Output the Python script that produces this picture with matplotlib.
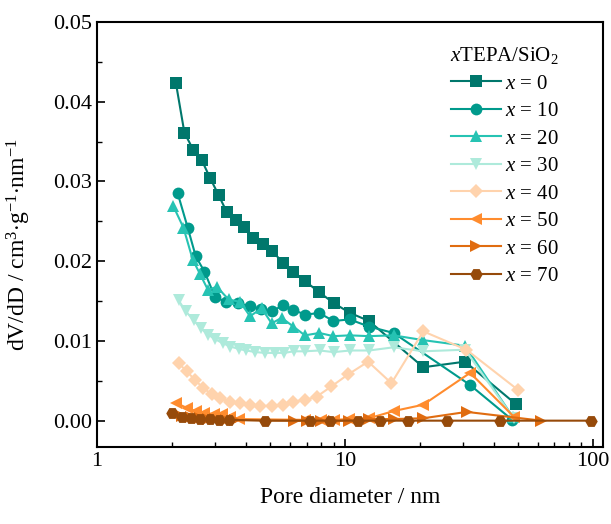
import matplotlib.pyplot as plt
from matplotlib.ticker import MultipleLocator, FixedLocator, NullFormatter

plt.rcParams['font.family'] = ['Liberation Serif', 'DejaVu Serif']
plt.rcParams['mathtext.fontset'] = 'custom'
plt.rcParams['mathtext.rm'] = 'Liberation Serif'
plt.rcParams['mathtext.it'] = 'Liberation Serif:italic'

# x = 0
d0 = [2.08, 2.25, 2.44, 2.64, 2.86, 3.09, 3.33, 3.62, 3.93, 4.27, 4.66, 5.06, 5.64, 6.19,
      6.9, 7.88, 9.05, 10.5, 12.5, 20.7, 30.5, 48.8]
v0 = [0.0423, 0.0361, 0.0340, 0.0327, 0.0304, 0.0283, 0.0262, 0.0252, 0.0243, 0.0229, 0.0222,
      0.0213, 0.0198, 0.0187, 0.0175, 0.0161, 0.0147, 0.0135, 0.0125, 0.0067, 0.0074, 0.0021]
# x = 10
d10 = [2.11, 2.32, 2.50, 2.71, 2.99, 3.31, 3.70, 4.14, 4.58, 5.08, 5.63, 6.19, 6.89, 7.88,
       8.98, 10.45, 12.5, 15.7, 31.9, 47.3]
v10 = [0.0286, 0.0242, 0.0206, 0.0187, 0.0155, 0.0149, 0.0147, 0.0144, 0.0140, 0.0137, 0.0145,
       0.0139, 0.0133, 0.0135, 0.0125, 0.0127, 0.0118, 0.0110, 0.0045, 0.0001]
# x = 20
d20 = [2.03, 2.23, 2.43, 2.60, 2.80, 3.04, 3.39, 3.77, 4.14, 4.61, 5.06, 5.55, 6.19, 6.89,
       7.88, 8.98, 10.45, 12.5, 15.7, 20.7, 30.5, 47.5]
v20 = [0.0269, 0.0242, 0.0202, 0.0184, 0.0164, 0.0168, 0.0152, 0.0149, 0.0131, 0.0141, 0.0122,
       0.0129, 0.0118, 0.0107, 0.0110, 0.0106, 0.0107, 0.0106, 0.0107, 0.0101, 0.0094, 0.0005]
# x = 30
d30 = [2.13, 2.28, 2.45, 2.62, 2.80, 3.0, 3.22, 3.45, 3.72, 4.0, 4.35, 4.75, 5.2, 5.7, 6.2,
       6.9, 7.9, 9.0, 10.5, 12.5, 15.7, 20.7, 30.5, 48.0]
v30 = [0.0151, 0.0137, 0.0126, 0.0116, 0.0108, 0.0102, 0.0097, 0.0093, 0.0090, 0.0088, 0.0086,
       0.0085, 0.0085, 0.0085, 0.0087, 0.0087, 0.0088, 0.0086, 0.0088, 0.0088, 0.0092, 0.0087,
       0.0089, 0.0003]
# x = 40
d40 = [2.13, 2.30, 2.48, 2.68, 2.90, 3.13, 3.44, 3.77, 4.14, 4.54, 5.06, 5.63, 6.19, 6.89,
       7.68, 8.82, 10.3, 12.4, 15.4, 20.7, 30.9, 49.7]
v40 = [0.0072, 0.0062, 0.0051, 0.0041, 0.0033, 0.0028, 0.0024, 0.0022, 0.0020, 0.0018, 0.0019,
       0.0020, 0.0024, 0.0026, 0.0030, 0.0043, 0.0058, 0.0074, 0.0047, 0.0112, 0.0089, 0.0039]
# x = 50
d50 = [2.09, 2.30, 2.50, 2.70, 2.95, 3.2, 3.45, 3.75, 6.9, 8.0, 9.0, 10.4, 12.5, 15.7, 20.7,
       32.0, 48.0]
v50 = [0.0022, 0.0016, 0.0012, 0.0010, 0.0008, 0.0008, 0.0005, 0.0002, 0.0001, 0.0001, 0.0001,
       0.0002, 0.0003, 0.0012, 0.0020, 0.0060, 0.0005]
# x = 60
d60 = [2.2, 2.4, 2.6, 2.8, 3.0, 3.3, 3.6, 6.2, 7.0, 8.0, 9.0, 10.4, 12.5, 15.7, 20.7, 31.0, 62.0]
v60 = [0.0006, 0.0004, 0.0003, 0.0002, 0.0002, 0.0001, 0.0001, 0.0, 0.0, 0.0, 0.0, 0.0,
       0.0002, 0.0002, 0.0003, 0.0011, 0.0]
# x = 70
d70 = [2.0, 2.2, 2.4, 2.6, 2.85, 3.1, 3.4, 4.76, 7.22, 8.72, 11.3, 13.9, 18.0, 25.7, 42.1, 98.0]
v70 = [0.0010, 0.0004, 0.0003, 0.0002, 0.0002, 0.0001, 0.0001, 0.0, 0.0, 0.0, 0.0, 0.0, 0.0,
       0.0, 0.0, 0.0]

series = [(d0, v0, '0'), (d10, v10, '10'), (d20, v20, '20'), (d30, v30, '30'),
          (d40, v40, '40'), (d50, v50, '50'), (d60, v60, '60'), (d70, v70, '70')]
colors = ['#00776c', '#009a8c', '#26c3b3', '#aeeadb', '#ffd3ad', '#ff8c2e', '#e06c10', '#964a0a']
markers = ['s', 'o', '^', 'v', 'D', '<', '>', 'H']
sizes = [8, 8.5, 8.5, 8.5, 7, 8.5, 8.5, 9]

fig = plt.figure(figsize=(6.11, 5.24), dpi=100)
ax = fig.add_axes([0.159, 0.147, 0.828, 0.811])

for (d, v, lab), c, m, ms in zip(series, colors, markers, sizes):
    ax.plot(d, v, color=c, marker=m, markersize=ms, linewidth=1.5,
            markeredgewidth=0, label='$x$ = ' + lab)

ax.set_xscale('log')
ax.set_xlim(1, 110)
ax.set_ylim(-0.0033, 0.05)
ax.yaxis.set_major_locator(MultipleLocator(0.01))
ax.yaxis.set_minor_locator(MultipleLocator(0.005))
ax.yaxis.set_major_formatter(plt.FuncFormatter(lambda y, p: f'{y:.2f}'))
ax.xaxis.set_major_locator(FixedLocator([1, 10, 100]))
ax.xaxis.set_major_formatter(plt.FuncFormatter(lambda x, p: f'{x:g}'))
ax.xaxis.set_minor_formatter(NullFormatter())

ax.tick_params(direction='in', which='major', length=6, width=1.2, labelsize=16,
               top=False, right=False)
ax.tick_params(direction='in', which='minor', length=3.5, width=1.0, top=False, right=False)
for s in ax.spines.values():
    s.set_linewidth(1.5)

ax.set_xlabel('Pore diameter / nm', fontsize=17, labelpad=12)
ax.set_ylabel('dV/dD / cm$^3$$\\cdot$g$^{-1}$$\\cdot$nm$^{-1}$', fontsize=17)
ax.yaxis.set_label_coords(-0.126, 0.476)

leg = ax.legend(title='$x$TEPA/SiO$_2$', loc='upper right', bbox_to_anchor=(0.95, 0.99),
                frameon=False, fontsize=15, title_fontsize=15, handlelength=2.4,
                handletextpad=0.2, labelspacing=0.38)

fig.savefig('out.png', dpi=100)
